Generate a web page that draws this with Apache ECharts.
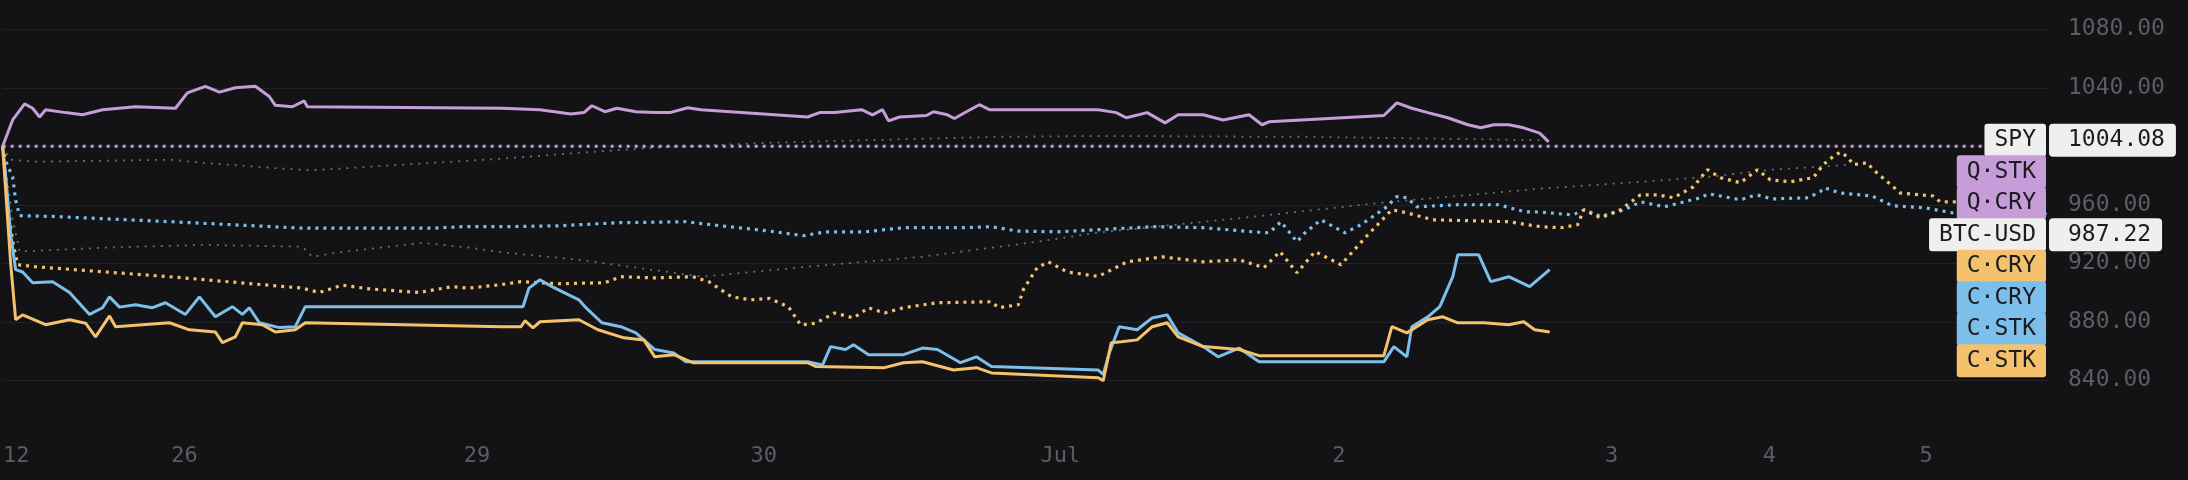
<!DOCTYPE html>
<html>
<head>
<meta charset="utf-8">
<script src="https://cdn.jsdelivr.net/npm/echarts@6/dist/echarts.min.js"></script>
<style>
  html, body { margin: 0; background: #131316; }
  #main { width: 2188px; height: 480px; }
</style>
</head>
<body>
<div id="main"></div>
<script>
// x = bar index along the (ordinal) time axis, y = normalised equity (start = 1000)
var xTickPos  = [3.4, 45.5, 118.75, 190.5, 264.75, 334.5, 402.75, 442.25, 481.5];
var xTickText = ['12', '26', '29', '30', 'Jul', '2', '3', '4', '5'];

var qStk = [[0,1000],[2.5,1018],[5.5,1029],[7.5,1026],[9.25,1020],[10.75,1025],[15.75,1023],[20,1021.5],[25,1025],[33.25,1027],[43.25,1026],[46.25,1036.5],[50.75,1041],[54.25,1037],[58.25,1040],[63.25,1041],[66.75,1034],[68.25,1028],[72.5,1027],[75.5,1031],[76.25,1027],[125,1026],[134.5,1025],[142.25,1022],[145.5,1023],[147.5,1027.7],[150.75,1023.6],[153.75,1026],[158.5,1023.6],[163.25,1023],[167,1023],[171.5,1026.3],[174.75,1025],[201.5,1020],[204.5,1023],[208.25,1023],[215,1025],[217.75,1021.5],[220.25,1025],[221.75,1017.4],[224.5,1020],[231.25,1021],[233,1023.6],[236.5,1021.5],[238.25,1019],[241.25,1023.6],[244.5,1028.4],[247,1025],[274.25,1025],[278.75,1023],[281.25,1019.5],[286.5,1023],[291,1016],[294.25,1021.5],[300.5,1021.5],[305.5,1018],[312,1021.5],[315.25,1014.7],[317,1016.7],[345.75,1021],[349,1029.7],[352.75,1026],[356.75,1023],[361.75,1019.5],[366.75,1014.7],[370,1012.6],[373.25,1014.7],[377,1014.7],[380.75,1012.6],[384.75,1009],[387,1003]];

var qCry = [[0,1000],[511.75,1000]];

var spy = [[0,1000],[1,995],[2,990.8],[8,989.4],[42,990.8],[50,988.7],[67,985.3],[77,983.5],[92,986],[108,988.7],[125,991.5],[144,995.5],[163,999],[192,1002.4],[211,1003.8],[250,1006.5],[275,1007],[325,1006.5],[387,1004.08]];

var btc = [[0,1000],[1.25,975],[2.5,950],[4.25,928],[25,930.6],[50,932.6],[75,931.3],[77.5,924.4],[83,927],[105,934],[117,930.6],[125,927.5],[144,922.4],[168,913.5],[175,910.8],[201.5,917.6],[230,924.4],[259,934.7],[274,940.9],[313,951.8],[345,961.4],[385,971],[410,975.7],[427,979],[443,984],[462,987.22]];

var cCryBlue = [[0,1000],[0.75,990],[2.5,979],[3.25,963],[4.25,952.5],[12.5,952],[42,948.4],[75,944],[108,944],[115,945],[125,945],[139,945.6],[154,947.7],[171,948.4],[177.5,946.3],[192,942],[200.5,938.8],[206,941.5],[216,941.5],[225.5,944.3],[240,944.3],[247.5,945],[254,942],[264,941.5],[274,942.9],[288,945],[300.5,944.3],[313,941.5],[317,940.8],[320,948.4],[324,934.7],[326,940.8],[330,949.7],[336,940.8],[340,946.3],[346.5,958.6],[349,965.5],[351.5,964.8],[354,958.6],[364,960],[374.5,960],[381,955.2],[385,955],[393,953],[396,956.6],[400,952],[406,956.6],[410,962],[416,958.6],[420,961.4],[425,964.8],[427,967.5],[435,963.4],[439,966.8],[443,964],[452,964.8],[455,969],[456,971.6],[460,968],[468,966],[473,959.3],[481,958],[488,954.5],[500,955],[511.75,954]];

var cCryOrange = [[0,1000],[1.25,960],[2.5,935],[3.75,919],[8.25,917.6],[41.75,910.8],[75,903],[79.25,900],[85,905],[91.75,902.5],[104.25,900],[112.5,904],[116.75,903],[125,905.5],[129.75,907.4],[139.25,906],[150.75,906.7],[154.75,910.8],[163.25,910],[172.75,910.8],[176.75,907.4],[182.5,897],[187.25,895],[192,896],[196.75,890],[199.75,877.8],[203.5,879],[208.25,886],[213,882.6],[216.75,889.6],[220.75,886],[225.5,889.6],[234,893],[247.5,893.7],[249.25,889.6],[254.25,891.6],[255.5,902],[259,917],[261.75,921],[266.5,914],[274.25,911],[281.5,921],[290.25,924.4],[300.5,921],[309.5,922.4],[315.75,917],[319.75,928],[324,913.5],[328.5,928],[335,919],[341.25,938],[347.75,956.6],[351.5,954.5],[358,949.7],[377,948.4],[385,945],[390,944.3],[394.25,946.3],[395.75,956.6],[400,951],[405,956.6],[410,966.8],[414.25,966.8],[418.25,964.8],[423.25,972.3],[426.75,984],[430,978.5],[435,975],[439.25,984],[442.5,977],[447.5,975.7],[453.25,978.5],[455.75,987.4],[458.25,993],[460,996],[461.75,993],[463.25,987.4],[466.75,988.7],[468.25,984],[473.25,972.3],[475,968],[483.25,966],[485,962],[489.25,962],[511.75,962]];

var cStkBlue = [[0,1000],[0.75,980],[2,940],[3.25,915.6],[5,914],[7.5,906.7],[12.5,907.4],[16.75,900],[21.75,885],[25,889.6],[26.75,897],[29.25,890],[33.25,891.6],[37.5,889.6],[40.75,893],[45.75,885],[49.25,897],[53.25,883.4],[57.5,890.3],[60,885],[61.75,889.6],[64.25,879.3],[69.25,876],[73.25,876.6],[75.75,890.3],[125,890.3],[130.25,890.3],[131.75,903],[134.5,908.7],[137.5,904],[144.25,895],[146,889.6],[150,879.3],[154.75,876.6],[158.5,872.4],[163.25,861],[168,858.6],[171,852.6],[201.5,852.6],[205.25,850.5],[207.25,863],[211,861],[213,864.3],[216.75,857.5],[225.5,857.5],[230.25,862],[234,861],[239.75,852],[243.75,856],[247.5,849.4],[274.25,847],[275.5,844],[277,858.5],[279.5,876.6],[284,874.5],[287.75,882.6],[291.5,884.7],[294.25,872.4],[300.5,863],[304.25,856],[309.5,862],[314.5,852.6],[345.75,852.6],[348.25,863],[351.5,856],[352.75,876.6],[356.75,883.4],[359.75,890.3],[363,910.8],[364.25,925.8],[369.5,925.8],[372.5,907.4],[377,910.8],[382.25,904],[387.25,915.6]];

var cStkOrange = [[0,1000],[0.75,970],[2,920],[3.25,881.4],[5,884.7],[10.75,878],[16.75,881.4],[20.75,879],[23.25,869.7],[26.75,884],[28.25,876.6],[41.75,879.3],[46.75,874.5],[53.25,873],[55,865.7],[58.25,869.7],[60,879.3],[65,878],[68.25,873],[73.25,874.5],[75.75,879.3],[125,876.6],[129.75,876.6],[130.75,880.7],[132.75,875.8],[134.5,880],[144.25,881.4],[149,874.5],[155.5,869],[160.5,867.6],[163.25,856],[168,857.5],[172.75,852],[201.5,852],[203.5,849.4],[220.75,848.6],[225.5,852],[230.25,852.6],[238,847],[243.75,848.6],[247.5,845],[274.25,841.7],[275.5,839.7],[277.5,865.6],[280,866.3],[284,867.6],[287.75,876.6],[291.5,879.3],[294.25,869.7],[300.5,863],[309.5,861],[314.5,856.8],[345.75,856.8],[347.75,876.6],[351.5,872.4],[356.75,881.4],[360.5,883.4],[364.25,879.3],[370.75,879.3],[377,878],[380.75,880],[383.5,874.5],[387.25,873]];

var PURPLE = '#c69dd9', ORANGE = '#f4c26c', BLUE = '#7bbfea', GRAY = '#6c6c72';
var MONO = '"DejaVu Sans Mono", "Liberation Mono", monospace';

var lines = [
  { tag: 'SPY',     data: spy,        color: GRAY,   kind: 'bench', bench: true },
  { tag: 'BTC-USD', data: btc,        color: GRAY,   kind: 'bench', bench: true },
  { tag: 'Q·CRY',   data: qCry,       color: PURPLE, kind: 'dot' },
  { tag: 'C·CRY',   data: cCryBlue,   color: BLUE,   kind: 'dot' },
  { tag: 'C·CRY',   data: cCryOrange, color: ORANGE, kind: 'dot' },
  { tag: 'C·STK',   data: cStkBlue,   color: BLUE,   kind: 'solid' },
  { tag: 'C·STK',   data: cStkOrange, color: ORANGE, kind: 'solid' },
  { tag: 'Q·STK',   data: qStk,       color: PURPLE, kind: 'solid' }
];

function lineStyleFor(l) {
  if (l.kind === 'bench') return { color: l.color, width: 1.8, type: [2, 6] };
  if (l.kind === 'dot') return { color: l.color, width: 3.2, type: [3, 5] };
  return { color: l.color, width: 3 };
}

var chart = echarts.init(document.getElementById('main'));

chart.setOption({
  backgroundColor: '#131316',
  animation: false,
  grid: { left: 0, right: 140, top: 0, height: 438.75 },
  xAxis: {
    type: 'value', min: 0, max: 512,
    axisLine: { show: false },
    axisTick: { show: false },
    splitLine: { show: false },
    axisLabel: {
      customValues: xTickPos,
      formatter: function (v) {
        var i = xTickPos.indexOf(v);
        return i < 0 ? '' : xTickText[i];
      },
      color: '#5c5c62', fontFamily: MONO, fontSize: 22, margin: 7
    }
  },
  yAxis: {
    type: 'value', position: 'right',
    min: 800, max: 1100, interval: 40,
    axisLine: { show: false },
    axisTick: { show: false },
    splitLine: { show: true, showMinLine: false, showMaxLine: false, lineStyle: { color: '#222226', width: 1 } },
    axisLabel: {
      showMinLabel: false, showMaxLabel: false,
      formatter: function (v) { return v.toFixed(2); },
      color: '#5c5c62', fontFamily: MONO, fontSize: 23, margin: 20
    }
  },
  series: lines.map(function (l, i) {
    return {
      type: 'line', name: l.tag + i, data: l.data,
      showSymbol: false, symbol: 'none',
      lineStyle: lineStyleFor(l),
      z: l.kind === 'solid' ? 4 : (l.kind === 'dot' ? 3 : 2)
    };
  })
});

// right-edge tags, stacked downwards in value order so they don't overlap
function drawTags() {
  var TAG_H = 31.5;
  var right = chart.convertToPixel({ xAxisIndex: 0 }, 512);
  var tags = lines.map(function (l) {
    return { l: l, last: l.data[l.data.length - 1][1] };
  }).sort(function (a, b) { return b.last - a.last; });
  var prev = -Infinity, els = [];
  tags.forEach(function (t) {
    var y = Math.max(chart.convertToPixel({ yAxisIndex: 0 }, t.last), prev + TAG_H);
    prev = y;
    var bg = t.l.bench ? '#efeff0' : t.l.color;
    els.push({
      type: 'text', x: right - 2, y: y, z: 100,
      style: {
        text: t.l.tag, fill: '#1c1c20', font: '23px ' + MONO, lineHeight: 23,
        align: 'right', verticalAlign: 'middle',
        backgroundColor: bg, padding: [5, 10, 5, 10], borderRadius: 3
      }
    });
    if (t.l.bench) {
      els.push({
        type: 'text', x: right + 1, y: y, z: 100,
        style: {
          text: t.last.toFixed(2), fill: '#1c1c20', font: '23px ' + MONO, lineHeight: 23,
          align: 'left', verticalAlign: 'middle',
          backgroundColor: '#efeff0', padding: [5, 11, 5, 19], borderRadius: 4
        }
      });
    }
  });
  chart.setOption({ graphic: els });
}
drawTags();
</script>
</body>
</html>
